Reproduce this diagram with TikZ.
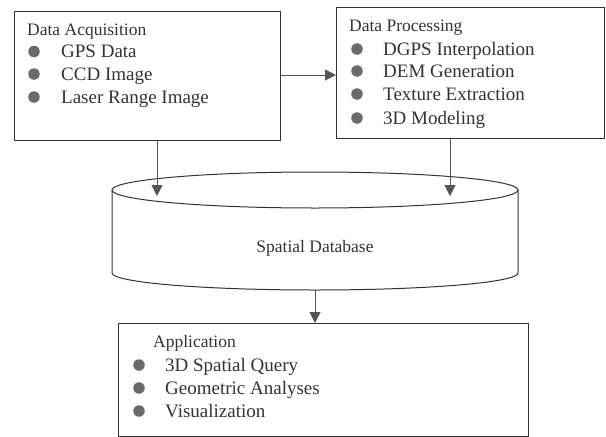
\documentclass[tikz,border=0pt]{standalone}
\usepackage{fontspec}
\setmainfont{Liberation Serif}
\usetikzlibrary{arrows.meta}
\definecolor{ink}{HTML}{333333}
\definecolor{dot}{HTML}{6A6A6A}
\definecolor{arrowink}{HTML}{555555}
\begin{document}
\begin{tikzpicture}[x=1pt,y=-1pt,
  box/.style={draw=ink,line width=1pt,anchor=north west,inner sep=0,rectangle},
  head/.style={anchor=base west,inner sep=0,font=\fontsize{17.5}{20}\selectfont,text=ink},
  item/.style={anchor=base west,inner sep=0,font=\fontsize{19}{22}\selectfont,text=ink},
  bullet/.style={circle,fill=dot,minimum size=11.5pt,inner sep=0},
  flow/.style={draw=arrowink,line width=1pt,-{Triangle[length=11pt,width=11pt,fill=arrowink]}}]
  \useasboundingbox (0,0) rectangle (606,437);

  % Data acquisition box
  \node[box,minimum width=266pt,minimum height=129pt] (acq) at (14,11) {};
  \node[head] (acqh) at (27,35) {Data Acquisition};
  \node[bullet] (a1b) at (34,51.5) {};
  \node[item] (a1) at (61,57.5) {GPS Data};
  \node[bullet] (a2b) at (34,74) {};
  \node[item] (a2) at (61,80) {CCD Image};
  \node[bullet] (a3b) at (34,97) {};
  \node[item] (a3) at (61,103) {Laser Range Image};

  % Data processing box
  \node[box,minimum width=268pt,minimum height=131pt] (proc) at (336,7) {};
  \node[head] (proch) at (349,31.5) {Data Processing};
  \node[bullet] (p1b) at (357,49) {};
  \node[item] (p1) at (383,55) {DGPS Interpolation};
  \node[bullet] (p2b) at (357,71) {};
  \node[item] (p2) at (383,77) {DEM Generation};
  \node[bullet] (p3b) at (357,94) {};
  \node[item] (p3) at (383,100) {Texture Extraction};
  \node[bullet] (p4b) at (357,118) {};
  \node[item] (p4) at (383,124) {3D Modeling};

  % Spatial database cylinder
  \draw[ink,line width=1pt] (315,190) ellipse[x radius=203,y radius=18];
  \draw[ink,line width=1pt] (112,190) -- (112,273)
    arc[start angle=180,end angle=0,x radius=203,y radius=17] -- (518,190);
  \node[anchor=base,inner sep=0,font=\fontsize{17.5}{20}\selectfont,text=ink] (db) at (315,252) {Spatial Database};
  \coordinate (dbtopL) at (157,196);
  \coordinate (dbtopR) at (450,196);
  \coordinate (dbbot) at (315,290);

  % Application box
  \node[box,minimum width=410pt,minimum height=113pt] (app) at (118,323) {};
  \node[head] (apph) at (153,347) {Application};
  \node[bullet] (s1b) at (139,365) {};
  \node[item] (s1) at (165,371) {3D Spatial Query};
  \node[bullet] (s2b) at (139,388) {};
  \node[item] (s2) at (165,394) {Geometric Analyses};
  \node[bullet] (s3b) at (139,411) {};
  \node[item] (s3) at (165,417) {Visualization};

  % Connectors
  \draw[flow] (acq.east |- 0,75) -- (proc.west |- 0,75);
  \draw[flow] (dbtopL |- acq.south) -- (dbtopL);
  \draw[flow] (dbtopR |- proc.south) -- (dbtopR);
  \draw[flow] (dbbot) -- (dbbot |- app.north);
\end{tikzpicture}
\end{document}
